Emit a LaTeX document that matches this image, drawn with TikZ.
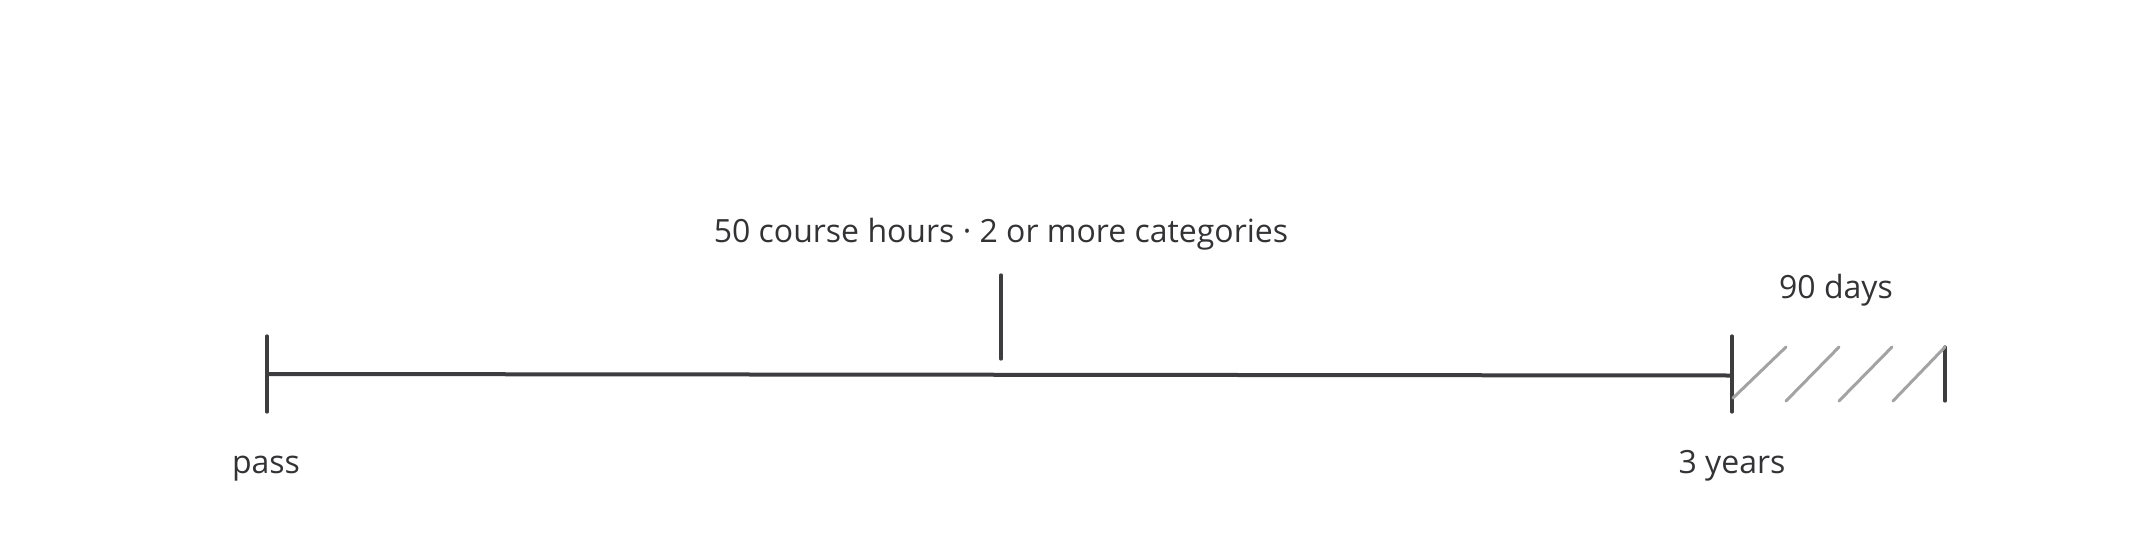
\documentclass[tikz,border=0pt]{standalone}
\usepackage{fontspec}
\setmainfont{Open Sans}
\definecolor{inkc}{HTML}{3D3D40}
\definecolor{hatchc}{HTML}{A3A3A3}
\definecolor{textc}{HTML}{333336}
\begin{document}
\begin{tikzpicture}[x=1pt,y=-1pt,
  ink/.style={draw=inkc, line width=3.3pt, line cap=round},
  hatchline/.style={draw=hatchc, line width=3pt, line cap=round},
  lbl/.style={text=textc, font=\fontsize{32}{38}\selectfont, inner sep=0pt, anchor=base}]
\useasboundingbox (0,0) rectangle (2133,533);
% main timeline
\coordinate (start) at (267,374);
\coordinate (end) at (1732,375.5);
\draw[ink, line width=4pt] (start) -- (end);
% ticks
\coordinate (t1a) at (267,336); \coordinate (t1b) at (267,412);
\draw[ink] (t1a) -- (t1b);
\coordinate (t2a) at (1732,336); \coordinate (t2b) at (1732,412);
\draw[ink] (t2a) -- (t2b);
\coordinate (t3a) at (1001,275); \coordinate (t3b) at (1001,359);
\draw[ink] (t3a) -- (t3b);
\coordinate (t4a) at (1945,347); \coordinate (t4b) at (1945,401);
\draw[ink] (t4a) -- (t4b);
% hatch (grace period)
\coordinate (h1a) at (1733,398); \coordinate (h1b) at (1786,347);
\coordinate (h2a) at (1786,401); \coordinate (h2b) at (1839,347);
\coordinate (h3a) at (1839,401); \coordinate (h3b) at (1892,347);
\coordinate (h4a) at (1893,401); \coordinate (h4b) at (1945,347);
\draw[hatchline] (h1a) -- (h1b);
\draw[hatchline] (h2a) -- (h2b);
\draw[hatchline] (h3a) -- (h3b);
\draw[hatchline] (h4a) -- (h4b);
% labels
\node[lbl] (pass) at (266,473) {pass};
\node[lbl] (years) at (1732,473) {3 years};
\node[lbl] (days) at (1836,298) {90 days};
\node[lbl] (req) at (1001,242) {50 course hours · 2 or more categories};
\end{tikzpicture}
\end{document}
